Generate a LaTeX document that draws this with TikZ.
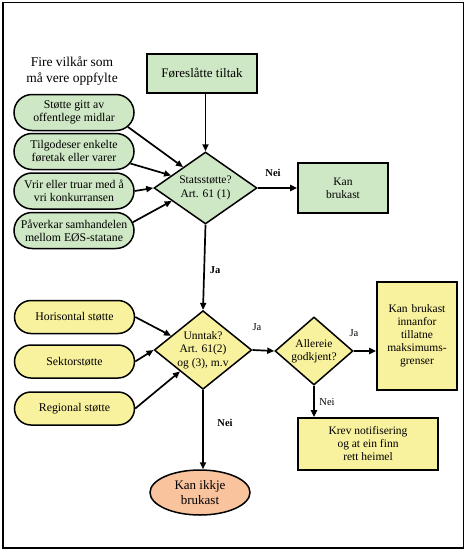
\documentclass[tikz,border=0pt]{standalone}
\usepackage{fontspec}
\setmainfont{Liberation Serif}
\usetikzlibrary{shapes.geometric,shapes.misc,arrows.meta}
\definecolor{gfill}{RGB}{206,231,196}
\definecolor{yfill}{RGB}{248,241,158}
\definecolor{sfill}{RGB}{249,195,158}
\tikzset{
  box/.style={draw, line width=1.6pt, inner sep=2pt, align=center, font=\fontsize{11.5}{13}\selectfont},
  gbox/.style={box, fill=gfill},
  ybox/.style={box, fill=yfill},
  pill/.style={rounded rectangle, draw, line width=1.5pt, minimum width=122pt, inner sep=1pt, align=center, font=\fontsize{11.8}{13}\selectfont},
  gpill/.style={pill, fill=gfill, minimum height=36pt},
  ypill/.style={pill, fill=yfill, minimum height=33pt},
  dia/.style={diamond, draw, line width=1.5pt, inner sep=0pt, align=center, font=\fontsize{11.5}{13.5}\selectfont},
  arr/.style={line width=1.7pt, -{Triangle[length=7pt,width=6pt]}},
  lbl/.style={font=\fontsize{10.5}{12}\selectfont},
  blbl/.style={font=\fontsize{10.5}{12}\selectfont\bfseries},
}
\begin{document}
\begin{tikzpicture}[x=1pt,y=-1pt]
\useasboundingbox (0,0) rectangle (467,551);
\draw[line width=1.3pt] (3,2.5) rectangle (463.5,548);

\node[align=center, font=\fontsize{13.5}{16}\selectfont] (title) at (72,71) {Fire vilkår som\\må vere oppfylte};

\node[gbox, minimum width=110pt, minimum height=39pt, font=\fontsize{13}{15}\selectfont] (tiltak) at (202,73.5) {Føreslåtte tiltak};
\node[dia, fill=gfill, minimum width=103pt, minimum height=72pt, aspect=1.43] (stat) at (205.5,188) {Statsstøtte?\\Art. 61 (1)};
\node[gbox, minimum width=90pt, minimum height=50pt] (kan1) at (343,188) {Kan\\brukast};

\node[gpill] (p1) at (74,112.5) {Støtte gitt av\\offentlege midlar};
\node[gpill] (p2) at (74,151.5) {Tilgodeser enkelte\\føretak eller varer};
\node[gpill] (p3) at (74,191) {Vrir eller truar med å\\vri konkurransen};
\node[gpill] (p4) at (74,230.5) {Påverkar samhandelen\\mellom EØS-statane};

\node[ypill] (h) at (74.5,317) {Horisontal støtte};
\node[ypill] (s) at (74.5,361.5) {Sektorstøtte};
\node[ypill] (r) at (74.5,408.5) {Regional støtte};

\node[dia, fill=yfill, minimum width=97pt, minimum height=78pt, aspect=1.24] (unntak) at (203,350) {Unntak?\\Art. 61(2)\\og (3), m.v};
\node[dia, fill=yfill, minimum width=78pt, minimum height=68pt, aspect=1.15] (allereie) at (314,351) {Allereie\\godkjent?};
\node[ybox, minimum width=80pt, minimum height=108pt, text width=72pt] (kanb) at (417,336) {Kan brukast\\innanfor\\tillatne\\maksimums-\\grenser\\[12pt]};
\node[ybox, minimum width=140pt, minimum height=52pt] (krev) at (368,444) {Krev notifisering\\og at ein finn\\rett heimel};
\node[ellipse, draw, line width=1.5pt, fill=sfill, minimum width=100pt, minimum height=45pt, inner sep=0pt, align=center, font=\fontsize{13}{15}\selectfont] (ikkje) at (200,492.5) {Kan ikkje\\brukast};

% connectors
\draw[arr] (stat.north |- tiltak.south) -- (stat.north);
\draw[arr] (stat.east) -- (kan1.west);
\draw[arr] (p1.-15) -- (stat.137);
\draw[arr] (p2.-12) -- (stat.160);
\draw[arr] (p3.east) -- (stat.west);
\draw[arr] (p4.8) -- (stat.201);
\draw[arr] (stat.south) -- (unntak.north);
\draw[arr] (h.east) -- (unntak.156);
\draw[arr] (s.east) -- (unntak.west);
\draw[arr] (r.east) -- (unntak.223);
\draw[arr] (unntak.east) -- (allereie.west);
\draw[arr] (allereie.east) -- (kanb.west |- allereie.east);
\draw[arr] (allereie.south) -- (allereie.south |- krev.north);
\draw[arr] (unntak.south) -- (unntak.south |- ikkje.north);

% labels
\node[blbl] (l1) at (273,173) {Nei};
\node[blbl] (l2) at (215,270) {Ja};
\node[lbl] (l3) at (257,327) {Ja};
\node[lbl] (l4) at (354,333) {Ja};
\node[lbl] (l5) at (327,402) {Nei};
\node[blbl] (l6) at (225,423) {Nei};
\end{tikzpicture}
\end{document}
